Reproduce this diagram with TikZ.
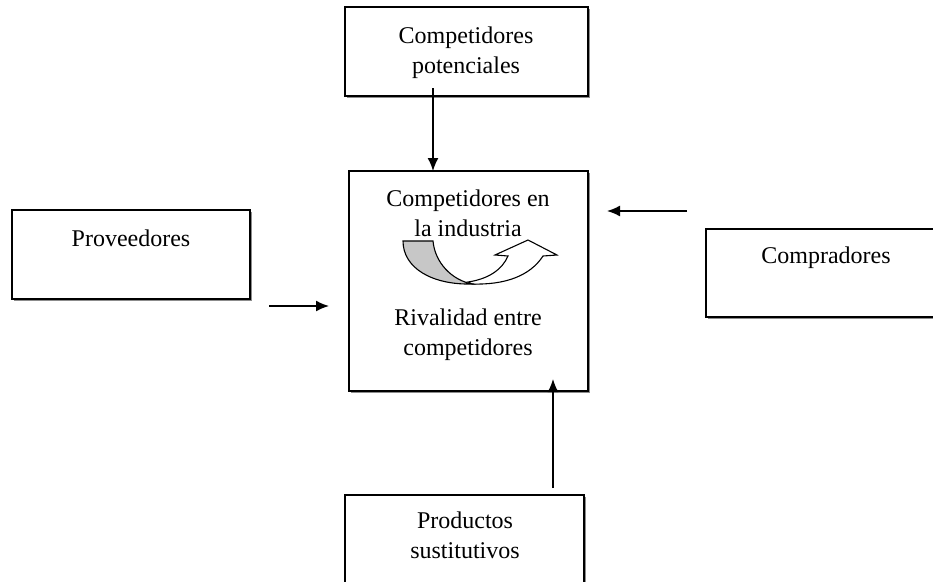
\documentclass[tikz,border=0pt]{standalone}
\usepackage{fontspec}
\setmainfont{Liberation Serif}
\usetikzlibrary{arrows.meta,shadows}
\tikzset{
  box/.style={draw=black, line width=1.7pt, fill=white, inner sep=0pt, outer sep=0pt,
    drop shadow={shadow xshift=2pt, shadow yshift=-2pt, fill=black, opacity=0.45}},
  lbl/.style={anchor=base, align=center, inner sep=0pt,
    font=\fontsize{24}{30}\selectfont},
  arr/.style={line width=1.6pt, -{Latex[length=13pt,width=11pt]}},
  ribbon/.style={draw=black, line width=1.1pt, line join=miter},
}
\begin{document}
\begin{tikzpicture}[x=1pt, y=-1pt]
  \useasboundingbox (0,0) rectangle (933,581);
  \clip (0,0) rectangle (933,581);

  % the five forces
  \node[box, minimum width=243pt, minimum height=89pt]  (pot)  at (466.5,51.5) {};
  \node[box, minimum width=239pt, minimum height=220pt] (mid)  at (468.5,281)  {};
  \node[box, minimum width=238pt, minimum height=89pt]  (prov) at (131,254.5)  {};
  \node[box, minimum width=240pt, minimum height=88pt]  (comp) at (826,273)    {};
  \node[box, minimum width=239pt, minimum height=90pt]  (prod) at (464.5,540)  {};

  % labels (a two-line label sits on the baseline of its last line)
  \node[lbl] (potT)  at (466,73)  {Competidores\\potenciales};
  \node[lbl] (midT)  at (468,236) {Competidores en\\la industria};
  \node[lbl] (midB)  at (468,355) {Rivalidad entre\\competidores};
  \node[lbl] (provT) at (131,246) {Proveedores};
  \node[lbl] (compT) at (826,263) {Compradores};
  \node[lbl] (prodT) at (465,558) {Productos\\sustitutivos};

  % connector end points
  \coordinate (topS) at (433,88);
  \coordinate (leftS) at (269,306);
  \coordinate (leftE) at (329,306);
  \coordinate (rightS) at (687,211);
  \coordinate (rightE) at (607,211);
  \coordinate (botS) at (553,488);
  \coordinate (botE) at (553,379);

  \draw[arr] (topS) -- (topS |- mid.north);
  \draw[arr] (leftS) -- (leftE);
  \draw[arr] (rightS) -- (rightE);
  \draw[arr] (botS) -- (botE);

  % rivalry symbol: a ribbon turning into an upward arrow
  \draw[ribbon, fill=white]
    (468,282) .. controls (488,279) and (502,270) .. (508,256)
    -- (495,255) -- (528,240) -- (557,255) -- (543,256)
    .. controls (530,276) and (505,285) .. (472,284) -- cycle;
  \draw[ribbon, fill=black!22]
    (403,241) -- (433,241)
    .. controls (435,263) and (452,280) .. (472,284)
    .. controls (432,285) and (403,268) .. (403,241) -- cycle;
\end{tikzpicture}
\end{document}
